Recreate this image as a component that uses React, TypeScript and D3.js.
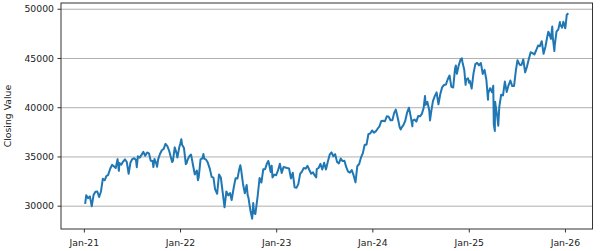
import React from "react";
import * as d3 from "d3";

const dates: string[] = [
  "2021-01-04","2021-01-08","2021-01-15","2021-01-22","2021-01-29","2021-02-05","2021-02-12","2021-02-19","2021-02-26",
  "2021-03-05","2021-03-12","2021-03-19","2021-03-26","2021-04-01","2021-04-09","2021-04-16","2021-04-23","2021-04-30",
  "2021-05-07","2021-05-12","2021-05-14","2021-05-21","2021-05-28","2021-06-04","2021-06-11","2021-06-18","2021-06-25",
  "2021-07-02","2021-07-09","2021-07-16","2021-07-19","2021-07-23","2021-07-30","2021-08-06","2021-08-13","2021-08-20",
  "2021-08-27","2021-09-03","2021-09-10","2021-09-17","2021-09-20","2021-09-24","2021-10-01","2021-10-04","2021-10-08",
  "2021-10-15","2021-10-22","2021-10-29","2021-11-05","2021-11-12","2021-11-19","2021-11-26","2021-11-30","2021-12-03",
  "2021-12-10","2021-12-17","2021-12-20","2021-12-27","2021-12-31",
  "2022-01-04","2022-01-07","2022-01-14","2022-01-21","2022-01-24","2022-01-28","2022-02-04","2022-02-10","2022-02-18",
  "2022-02-24","2022-03-04","2022-03-08","2022-03-11","2022-03-18","2022-03-25","2022-03-29","2022-04-01","2022-04-08",
  "2022-04-14","2022-04-22","2022-04-29","2022-05-06","2022-05-12","2022-05-20","2022-05-27","2022-06-03","2022-06-10",
  "2022-06-17","2022-06-24","2022-07-01","2022-07-08","2022-07-14","2022-07-22","2022-07-29","2022-08-05","2022-08-12",
  "2022-08-16","2022-08-19","2022-08-26","2022-09-02","2022-09-09","2022-09-13","2022-09-16","2022-09-23","2022-09-30",
  "2022-10-04","2022-10-07","2022-10-12","2022-10-14","2022-10-21","2022-10-28","2022-11-04","2022-11-11","2022-11-18",
  "2022-11-25","2022-11-30","2022-12-02","2022-12-09","2022-12-13","2022-12-16","2022-12-23","2022-12-30",
  "2023-01-06","2023-01-13","2023-01-20","2023-01-27","2023-02-03","2023-02-10","2023-02-17","2023-02-24","2023-03-03",
  "2023-03-10","2023-03-17","2023-03-24","2023-03-31","2023-04-06","2023-04-14","2023-04-21","2023-04-28","2023-05-05",
  "2023-05-12","2023-05-19","2023-05-26","2023-05-31","2023-06-02","2023-06-09","2023-06-16","2023-06-23","2023-06-30",
  "2023-07-07","2023-07-14","2023-07-21","2023-07-28","2023-08-04","2023-08-11","2023-08-18","2023-08-25","2023-09-01",
  "2023-09-08","2023-09-15","2023-09-22","2023-09-29","2023-10-06","2023-10-13","2023-10-20","2023-10-27","2023-11-03",
  "2023-11-10","2023-11-17","2023-11-24","2023-12-01","2023-12-08","2023-12-15","2023-12-22","2023-12-29",
  "2024-01-05","2024-01-12","2024-01-19","2024-01-26","2024-02-02","2024-02-09","2024-02-16","2024-02-23","2024-03-01",
  "2024-03-08","2024-03-15","2024-03-22","2024-03-28","2024-04-05","2024-04-12","2024-04-16","2024-04-19","2024-04-26",
  "2024-05-03","2024-05-10","2024-05-17","2024-05-24","2024-05-30","2024-05-31","2024-06-07","2024-06-14","2024-06-21",
  "2024-06-28","2024-07-05","2024-07-12","2024-07-17","2024-07-19","2024-07-26","2024-08-02","2024-08-05","2024-08-09",
  "2024-08-16","2024-08-23","2024-08-30","2024-09-06","2024-09-13","2024-09-20","2024-09-27","2024-10-04","2024-10-11",
  "2024-10-18","2024-10-25","2024-11-01","2024-11-08","2024-11-11","2024-11-15","2024-11-22","2024-11-29","2024-12-04",
  "2024-12-06","2024-12-13","2024-12-18","2024-12-20","2024-12-27","2024-12-31",
  "2025-01-03","2025-01-10","2025-01-17","2025-01-24","2025-01-31","2025-02-07","2025-02-14","2025-02-21","2025-02-28",
  "2025-03-07","2025-03-13","2025-03-14","2025-03-21","2025-03-28","2025-04-02","2025-04-04","2025-04-08","2025-04-09",
  "2025-04-11","2025-04-17","2025-04-21","2025-04-25","2025-05-02","2025-05-09","2025-05-16","2025-05-23","2025-05-30",
  "2025-06-06","2025-06-13","2025-06-20","2025-06-27","2025-07-03","2025-07-11","2025-07-18","2025-07-25","2025-08-01",
  "2025-08-08","2025-08-15","2025-08-22","2025-08-29","2025-09-05","2025-09-12","2025-09-19","2025-09-26","2025-10-03",
  "2025-10-10","2025-10-17","2025-10-24","2025-10-28","2025-10-31","2025-11-07","2025-11-12","2025-11-14","2025-11-20",
  "2025-11-21","2025-11-28","2025-12-05","2025-12-11","2025-12-12","2025-12-19","2025-12-24","2025-12-31",
  "2026-01-02","2026-01-06","2026-01-09","2026-01-12"
];

const closes: number[] = [
  30224,31098,30814,30997,29983,31148,31458,31494,30932,
  31496,32779,32628,33072,33153,33801,34200,34043,33875,
  34778,33587,34382,34208,34529,34756,34480,33290,34433,
  34786,34870,34687,33962,35061,34935,35208,35515,35120,
  35455,35369,34607,34584,33970,34798,34326,34002,34746,
  35295,35677,35820,36328,36100,35602,34899,34484,34580,
  35971,35365,34932,35951,36338,
  36799,36231,35911,34265,34364,34725,35089,35241,34079,
  33224,33614,32632,32944,34754,34861,35294,34818,34721,
  34451,33811,32977,32899,31730,31262,33213,32900,31393,
  29888,31501,31097,31338,30630,31899,32845,32803,33761,
  34152,33706,32283,31318,32151,31105,30822,29590,28725,
  30316,29297,29210,29634,31082,32861,32403,33748,33746,
  34347,34590,34430,33476,34108,32920,33203,33147,
  33631,34303,33375,33978,33926,33869,33827,32817,33391,
  31910,31862,32238,33274,33485,33886,33809,34098,33674,
  33300,33427,33093,32908,33762,33877,34299,33727,34407,
  33734,34509,35227,35459,35065,35281,34500,34346,34837,
  34576,34618,33963,33507,33407,33670,33127,32418,34061,
  34283,34947,35390,36245,36247,37305,37385,37690,
  37466,37593,37863,38109,38654,38671,38628,39131,39087,
  38723,38715,39475,39807,38904,37983,37799,37986,38240,
  38676,39513,40004,39070,38112,38686,38799,38589,39150,
  39119,39376,40001,41198,40288,40590,39737,38703,39497,
  40660,41175,41563,40345,41394,42063,42313,42353,42864,
  43276,42114,42052,43989,44293,43445,44297,44911,45014,
  44643,43828,42327,42840,42992,42544,
  42732,41938,43488,44424,44545,44303,44546,43428,43841,
  42802,40813,41488,41985,41583,42225,38315,37645,40608,
  40212,39142,38170,40113,41317,41249,42655,41603,42270,
  42763,42197,42206,43819,44828,44371,44342,44902,43589,
  44176,44946,45631,45545,45401,45834,46315,46247,46758,
  45480,46191,47207,47706,47563,46987,48254,47147,45752,
  46245,47716,47955,48704,48458,48135,48731,48063,
  48382,49462,49504,49590
];

const yLabel = "Closing Value";

const W = 600;
const H = 251;
const M = { left: 61, right: 7.5, top: 3, bottom: 22 };

export default function App() {
  const parse = d3.timeParse("%Y-%m-%d");
  const data = dates.map((d, i) => ({ date: parse(d) as Date, value: closes[i] }));

  const [x0, x1] = d3.extent(data, (d) => d.date) as [Date, Date];
  const xPad = (x1.getTime() - x0.getTime()) * 0.05;
  const x = d3
    .scaleTime()
    .domain([new Date(x0.getTime() - xPad), new Date(x1.getTime() + xPad)])
    .range([M.left, W - M.right]);

  const [y0, y1] = d3.extent(data, (d) => d.value) as [number, number];
  const yPad = (y1 - y0) * 0.05;
  const y = d3
    .scaleLinear()
    .domain([y0 - yPad, y1 + yPad])
    .range([H - M.bottom, M.top]);

  const yTicks = y.ticks(5);
  const xTicks = d3.timeYear.range(d3.timeYear.ceil(x.domain()[0]), x.domain()[1]);
  const fmt = d3.timeFormat("%b-%y");

  const line = d3
    .line<{ date: Date; value: number }>()
    .x((d) => x(d.date))
    .y((d) => y(d.value));

  const font = "'DejaVu Sans', sans-serif";
  const fs = 9.3;
  const plotL = M.left;
  const plotR = W - M.right;
  const plotT = M.top;
  const plotB = H - M.bottom;

  return (
    <svg
      width={W}
      height={H}
      style={{ position: "absolute", left: 0, top: 0, background: "#fff" }}
      fontFamily={font}
    >
      <rect x={0} y={0} width={W} height={H} fill="#fff" />
      {yTicks.map((t) => (
        <line
          key={"g" + t}
          x1={plotL}
          x2={plotR}
          y1={y(t)}
          y2={y(t)}
          stroke="#b0b0b0"
          strokeWidth={1}
        />
      ))}
      <path d={line(data) || ""} fill="none" stroke="#1f77b4" strokeWidth={2} strokeLinejoin="round" />
      <rect
        x={plotL}
        y={plotT}
        width={plotR - plotL}
        height={plotB - plotT}
        fill="none"
        stroke="#333"
        strokeWidth={1}
      />
      {yTicks.map((t) => (
        <g key={"y" + t}>
          <line x1={plotL - 3.5} x2={plotL} y1={y(t)} y2={y(t)} stroke="#333" strokeWidth={1} />
          <text
            x={plotL - 7}
            y={y(t)}
            dy="0.35em"
            textAnchor="end"
            fontSize={fs}
            fill="#222"
          >
            {t}
          </text>
        </g>
      ))}
      {xTicks.map((t) => (
        <g key={"x" + t.getTime()}>
          <line x1={x(t)} x2={x(t)} y1={plotB} y2={plotB + 3.5} stroke="#333" strokeWidth={1} />
          <text x={x(t)} y={plotB + 16.5} textAnchor="middle" fontSize={fs} fill="#222">
            {fmt(t)}
          </text>
        </g>
      ))}
      <text
        transform={`translate(${11},${(plotT + plotB) / 2}) rotate(-90)`}
        textAnchor="middle"
        fontSize={fs}
        fill="#222"
      >
        {yLabel}
      </text>
    </svg>
  );
}
